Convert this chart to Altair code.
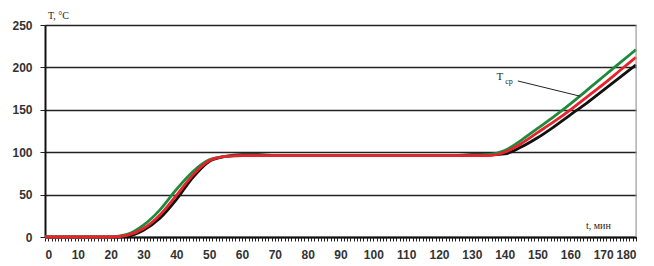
import altair as alt
import pandas as pd

t = list(range(0, 181, 5))
T_black = [0, 0, 0, 0, 0, 1, 8, 22, 44, 70, 89, 95, 97, 97, 96, 96, 96, 96, 96, 96,
           96, 96, 96, 96, 96, 96, 97, 97, 98, 106, 117, 130, 144, 158, 173, 188, 203]
T_green = [0, 0, 0, 0, 0, 3, 14, 32, 56, 77, 91, 95, 96, 96, 96, 96, 96, 96, 96, 96,
           96, 96, 96, 96, 96, 96, 96, 97, 102, 114, 128, 142, 157, 173, 189, 205, 221]
T_red = [0, 0, 0, 0, 0, 2, 10, 26, 49, 73, 90, 95, 96, 96, 96, 96, 96, 96, 96, 96,
         96, 96, 96, 96, 96, 96, 96, 96, 100, 110, 123, 136, 150, 165, 180, 196, 212]

series_names = ["black", "green", "red"]
series_colors = ["#111111", "#1e8a3c", "#e8222b"]

rows = []
for name, vals in zip(series_names, [T_black, T_green, T_red]):
    for ti, v in zip(t, vals):
        rows.append({"t": ti, "T": v, "s": name})
df = pd.DataFrame(rows)

x_scale = alt.Scale(domain=[0, 180], nice=False, zero=False)
y_scale = alt.Scale(domain=[0, 250], nice=False)

x_ticks = list(range(0, 181))
y_ticks = [0, 50, 100, 150, 200, 250]

x_axis = alt.Axis(values=x_ticks, labelExpr="datum.value % 10 === 0 ? datum.label : ''",
                  labelOverlap=False, grid=False, tickSize=4, tickColor="#222",
                  domainColor="#111", domainWidth=2, labelFont="Liberation Sans",
                  labelFontSize=12, labelFontWeight="bold", labelColor="#333",
                  labelPadding=8, title=None)
y_axis = alt.Axis(values=y_ticks, grid=True, gridColor="#222", gridWidth=1.3,
                  tickSize=5, tickColor="#222", domainColor="#111", domainWidth=2,
                  labelFont="Liberation Sans", labelFontSize=12, labelFontWeight="bold",
                  labelColor="#333", labelPadding=8, title=None)

X = lambda f: alt.X(f, scale=x_scale, axis=x_axis)
Y = lambda f: alt.Y(f, scale=y_scale, axis=y_axis)

layers = []
for name, col in zip(series_names, series_colors):
    layers.append(
        alt.Chart(df).transform_filter(alt.datum.s == name)
        .mark_line(color=col, strokeWidth=2.8, interpolate="monotone")
        .encode(x=X("t:Q"), y=Y("T:Q"))
    )

# right frame
frame = alt.Chart(pd.DataFrame({"v": [180]})).mark_rule(color="#999", strokeWidth=1).encode(
    x=X("v:Q"), y=alt.value(0), y2=alt.value(212))

# annotation
ann_text = pd.DataFrame({"t": [137.5], "T": [189], "txt": ["T"]})
ann_sub = pd.DataFrame({"t": [140.2], "T": [183], "txt": ["ср"]})
ann_line = pd.DataFrame({"t": [144], "T": [184], "t2": [163], "T2": [166]})

txt = alt.Chart(ann_text).mark_text(font="Liberation Serif", fontSize=11, align="left",
                                    baseline="middle", color="#222").encode(
    x=X("t:Q"), y=Y("T:Q"), text="txt:N")
sub = alt.Chart(ann_sub).mark_text(font="Liberation Serif", fontSize=8, align="left",
                                   baseline="middle", color="#222").encode(
    x=X("t:Q"), y=Y("T:Q"), text="txt:N")
line = alt.Chart(ann_line).mark_rule(color="#222", strokeWidth=1).encode(
    x=X("t:Q"), y=Y("T:Q"), x2="t2:Q", y2="T2:Q")

# axis titles as text
ytitle = alt.Chart(pd.DataFrame({"txt": ["T,  °C"]})).mark_text(
    font="Liberation Serif", fontSize=10, align="left", baseline="bottom", color="#222").encode(
    x=alt.value(3), y=alt.value(-4), text="txt:N")
xtitle = alt.Chart(pd.DataFrame({"txt": ["t, мин"]})).mark_text(
    font="Liberation Serif", fontSize=10, align="left", baseline="middle", color="#222").encode(
    x=alt.value(541), y=alt.value(201), text="txt:N")

chart = alt.layer(*layers, frame, line, txt, sub, ytitle, xtitle).properties(
    width=591, height=212,
    autosize=alt.AutoSizeParams(type="none"),
    padding={"left": 37, "top": 17, "right": 10, "bottom": 30},
).configure_view(stroke=None).configure(background="white")

chart.save("out.html", embed_options={"renderer": "svg", "actions": False})
